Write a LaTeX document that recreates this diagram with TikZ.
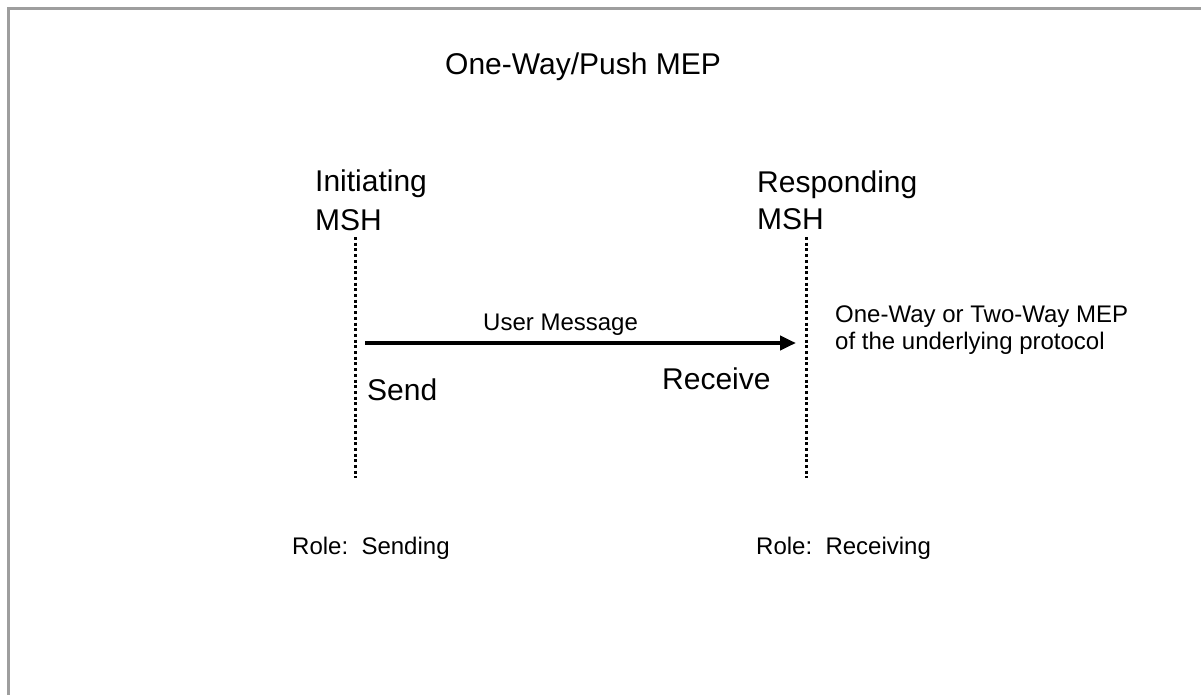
\documentclass[tikz,border=0pt]{standalone}
\usepackage{fontspec}
\setmainfont{Liberation Sans}
\usetikzlibrary{arrows.meta}
\usetikzlibrary{positioning}
\definecolor{framegray}{rgb}{0.62,0.62,0.62}

\begin{document}
\begin{tikzpicture}[x=1pt,y=-1pt,
  bigtxt/.style={font=\fontsize{30}{36}\selectfont,inner sep=0pt,anchor=base west},
  smalltxt/.style={font=\fontsize{24}{28}\selectfont,inner sep=0pt,anchor=base west},
  lifeline/.style={line width=3pt,dash pattern=on 3pt off 2.7pt},
  msg/.style={line width=4pt,-{Triangle[length=16pt,width=14pt]}}]
\useasboundingbox (0,0) rectangle (1201,695);
\draw [color=framegray,line width=3pt] (8,695) -- (8,9) -- (1201,9);
\node[bigtxt] (title) at (445,75) {One-Way/Push MEP};
\node[bigtxt] (init) at (315,192) {Initiating};
\node[bigtxt] (initmsh) at (315,230) {MSH};
\node[bigtxt] (resp) at (757,193) {Responding};
\node[bigtxt] (respmsh) at (757,229) {MSH};
% lifelines
\coordinate (itop) at (355,237);
\coordinate (ibot) at (355,478);
\coordinate (rtop) at (806,237);
\coordinate (rbot) at (806,478);
\draw [lifeline] (itop) -- (ibot);
\draw [lifeline] (rtop) -- (rbot);
% message
\coordinate (send) at (365,343);
\coordinate (recv) at (796,343);
\draw [msg] (send) -- (recv);
\node[smalltxt] (usermsg) at (483,330) {User Message};
\node[bigtxt] (sendlbl) at (367,400) {Send};
\node[bigtxt] (recvlbl) at (662,389) {Receive};
\node[smalltxt] (mep1) at (835,322) {One-Way or Two-Way MEP};
\node[smalltxt] (mep2) at (835,349) {of the underlying protocol};
\node[smalltxt] (rolesend) at (292,554) {Role:\ \ Sending};
\node[smalltxt] (rolerecv) at (756,554) {Role:\ \ Receiving};
\end{tikzpicture}
\end{document}
